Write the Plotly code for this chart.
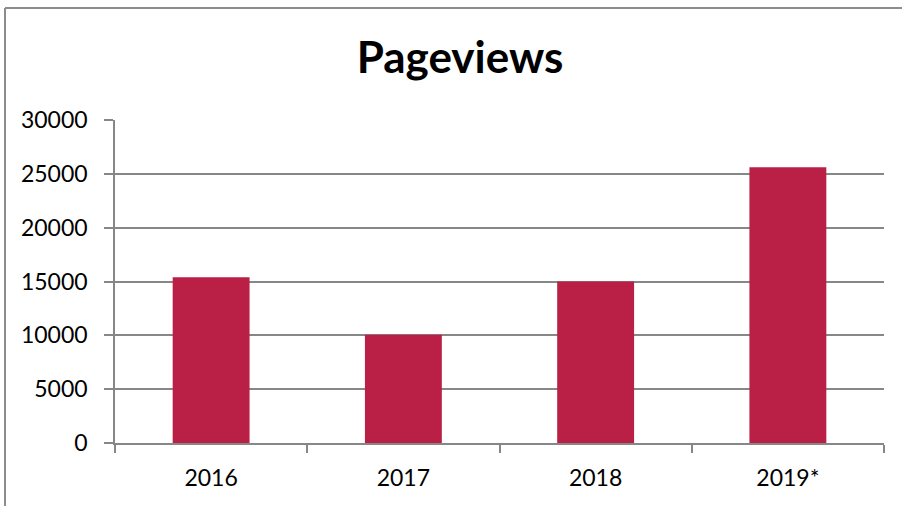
import plotly.graph_objects as go

categories = ["2016", "2017", "2018", "2019*"]
pageviews = [15400, 10050, 15000, 25600]
y_ticks = [0, 5000, 10000, 15000, 20000, 25000, 30000]
y_tick_labels = ["0", "5000", "10000", "15000", "20000", "25000", "30000"]

W, H = 902, 506
ml, mr, mt, mb = 115, 18, 120, 63
pw = W - ml - mr
ph = H - mt - mb

grey = "#878787"
fnt = "Lato"

fig = go.Figure(go.Bar(x=categories, y=pageviews, marker=dict(color="#BA2046", line=dict(width=0)), width=0.4))

def px_to_paper_x(px):
    return (px - ml) / pw

def px_to_paper_y(py):
    return (H - mb - py) / ph

fig.update_layout(
    width=W, height=H,
    margin=dict(l=ml, r=mr, t=mt, b=mb),
    paper_bgcolor="white", plot_bgcolor="white",
    showlegend=False,
    font=dict(family=fnt, color="black"),
    title=dict(text="<b>Pageviews</b>", x=460 / W, xref="container", xanchor="center",
               y=1 - 58 / H, yref="container", yanchor="middle",
               font=dict(family=fnt, size=44, color="black")),
    xaxis=dict(type="category", tickson="boundaries", ticks="outside", ticklen=8, tickcolor=grey, tickwidth=1.5,
               showline=True, linecolor=grey, linewidth=1.5, showgrid=False,
               tickfont=dict(family=fnt, size=23, color="black"), ticklabelstandoff=14),
    yaxis=dict(range=[0, 30000], tickvals=y_ticks, ticktext=y_tick_labels, ticks="outside", ticklen=9,
               tickcolor=grey, tickwidth=1.5,
               showline=True, linecolor=grey, linewidth=1.5, showgrid=True, gridcolor=grey, gridwidth=1.5,
               zeroline=False, tickfont=dict(family=fnt, size=23, color="black"), ticklabelstandoff=12),
    shapes=[
        dict(type="line", xref="paper", yref="paper",
             x0=px_to_paper_x(5), x1=px_to_paper_x(5), y0=px_to_paper_y(8), y1=px_to_paper_y(510),
             line=dict(color="#8c8c8c", width=2)),
        dict(type="line", xref="paper", yref="paper",
             x0=px_to_paper_x(5), x1=px_to_paper_x(910), y0=px_to_paper_y(8), y1=px_to_paper_y(8),
             line=dict(color="#8c8c8c", width=2)),
    ],
)

fig.write_html("out.html", config={"displayModeBar": False},
               post_script="document.body.style.margin='0';document.body.style.overflow='hidden';")
